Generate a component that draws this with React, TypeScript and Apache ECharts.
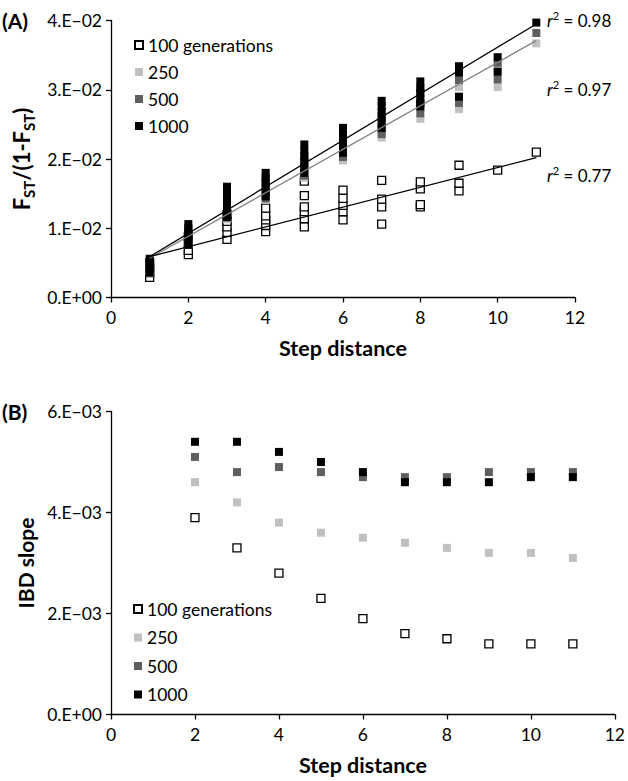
import React, { useEffect, useRef } from "react";
import * as echarts from "echarts";

// ---------- Data ----------
const seriesNames = ["100 generations", "250", "500", "1000"];
const stepX = [1, 2, 3, 4, 5, 6, 7, 8, 9, 10, 11];

// Panel A: replicate values of FST/(1-FST) per step distance
const topGen100 = [
  [0.0029, 0.0036, 0.0043, 0.005],
  [0.0062, 0.0068, 0.0078, 0.0088],
  [0.0084, 0.0094, 0.0102, 0.011, 0.012],
  [0.0095, 0.0104, 0.0112, 0.0118, 0.0129],
  [0.0102, 0.0114, 0.0124, 0.0131, 0.0147, 0.0168],
  [0.0112, 0.0124, 0.0133, 0.0143, 0.0155],
  [0.0106, 0.0131, 0.0142, 0.0169],
  [0.0131, 0.0134, 0.0157, 0.0167],
  [0.0154, 0.0165, 0.0191],
  [0.0184],
  [0.021],
];
const topGen250 = [
  [0.005, 0.004, 0.0036],
  [0.0094, 0.0082, 0.0076],
  [0.0145, 0.0128, 0.0113],
  [0.0165, 0.015, 0.0141],
  [0.0195, 0.018, 0.0173],
  [0.0225, 0.021, 0.0198],
  [0.0255, 0.024, 0.0231],
  [0.0295, 0.0275, 0.0258],
  [0.032, 0.0304, 0.0272],
  [0.033, 0.0304],
  [0.0367],
];
const topGen500 = [
  [0.0052, 0.0042, 0.0037],
  [0.0098, 0.0085, 0.0078],
  [0.015, 0.0132, 0.0116],
  [0.017, 0.0155, 0.0143],
  [0.02, 0.0185, 0.0176],
  [0.023, 0.0215, 0.0203],
  [0.0262, 0.0245, 0.0236],
  [0.03, 0.0282, 0.0266],
  [0.0326, 0.0314, 0.0281],
  [0.0339, 0.0315],
  [0.0382],
];
const topGen1000 = [
  [0.0056, 0.0051, 0.0046, 0.0041, 0.0036],
  [0.0106, 0.01, 0.0094, 0.0088, 0.0082, 0.0076],
  [0.016, 0.0152, 0.0144, 0.0136, 0.0128, 0.0121, 0.0116],
  [0.018, 0.0173, 0.0166, 0.0159, 0.0152, 0.0146],
  [0.0221, 0.0212, 0.0204, 0.0196, 0.0188, 0.018],
  [0.0245, 0.0238, 0.023, 0.0222, 0.0215, 0.0209],
  [0.0284, 0.0276, 0.0268, 0.026, 0.0252, 0.0245],
  [0.0312, 0.0303, 0.0295, 0.0287, 0.028, 0.0276],
  [0.0334, 0.0325, 0.029],
  [0.0347, 0.0326],
  [0.0397],
];
// Regression lines (endpoints at step 1 and 11)
const fitX = [1, 11];
const fitHigh = [0.0059, 0.0395];
const fitMid = [0.0057, 0.0371];
const fitLow = [0.0059, 0.0202];
const r2Labels = ["0.98", "0.97", "0.77"];

// Panel B: IBD slope per step distance
const slopeX = [2, 3, 4, 5, 6, 7, 8, 9, 10, 11];
const slope100 = [0.0039, 0.0033, 0.0028, 0.0023, 0.0019, 0.0016, 0.0015, 0.0014, 0.0014, 0.0014];
const slope250 = [0.0046, 0.0042, 0.0038, 0.0036, 0.0035, 0.0034, 0.0033, 0.0032, 0.0032, 0.0031];
const slope500 = [0.0051, 0.0048, 0.0049, 0.0048, 0.0047, 0.0047, 0.0047, 0.0048, 0.0048, 0.0048];
const slope1000 = [0.0054, 0.0054, 0.0052, 0.005, 0.0048, 0.0046, 0.0046, 0.0046, 0.0047, 0.0047];

const topYTicks = ["0.E+00", "1.E\u221202", "2.E\u221202", "3.E\u221202", "4.E\u221202"];
const bottomYTicks = ["0.E+00", "2.E\u221203", "4.E\u221203", "6.E\u221203"];

// ---------- Styles ----------
const FONT = "Lato";
const colors = ["#ffffff", "#c0c0c0", "#5e5e5e", "#000000"];

function replicatePairs(vals: number[][]) {
  const out: number[][] = [];
  vals.forEach((list, i) => list.forEach((v) => out.push([stepX[i], v])));
  return out;
}
function pairs(xs: number[], ys: number[]) {
  return xs.map((x, i) => [x, ys[i]]);
}

export default function App() {
  const ref = useRef<HTMLDivElement>(null);
  useEffect(() => {
    if (!ref.current) return;
    const chart = echarts.init(ref.current, undefined, { renderer: "svg" });
    const itemStyleFor = (i: number) =>
      i === 0
        ? { color: "#ffffff", borderColor: "#000000", borderWidth: 1.3, opacity: 1 }
        : { color: colors[i], borderWidth: 0, opacity: 1 };
    const scatter = (name: string, i: number, data: number[][], axis: number) => ({
      type: "scatter",
      name,
      xAxisIndex: axis,
      yAxisIndex: axis,
      symbol: "rect",
      symbolSize: 8,
      itemStyle: itemStyleFor(i),
      data,
      z: 2 + i,
    });
    const fitLine = (data: number[][], color: string) => ({
      type: "line",
      xAxisIndex: 0,
      yAxisIndex: 0,
      data,
      showSymbol: false,
      symbol: "none",
      lineStyle: { color, width: 1.3 },
      z: 10,
    });
    const axisCommon = {
      axisLine: { lineStyle: { color: "#000", width: 1.3 } },
      axisTick: { show: true, length: 5, inside: false, lineStyle: { color: "#000", width: 1.3 } },
      splitLine: { show: false },
    };
    const legendCommon = {
      orient: "vertical",
      icon: "rect",
      itemWidth: 8,
      itemHeight: 8,
      selectedMode: false,
      data: seriesNames,
      textStyle: { fontFamily: FONT, fontSize: 17.5, color: "#000" },
    };
    const r2Text = (val: string, y: number) => ({
      type: "text",
      x: 547,
      y,
      style: {
        text: `{i|r}{s|2}{t| = ${val}}`,
        textVerticalAlign: "middle",
        rich: {
          i: { fontFamily: FONT, fontSize: 17, fontStyle: "italic", color: "#000", verticalAlign: "bottom" },
          s: { fontFamily: FONT, fontSize: 11, color: "#000", verticalAlign: "bottom", padding: [0, 0, 8, 0] },
          t: { fontFamily: FONT, fontSize: 17, color: "#000", verticalAlign: "bottom" },
        },
      },
    });
    const option: any = {
      animation: false,
      backgroundColor: "#ffffff",
      grid: [
        { left: 111, top: 20.5, width: 464, height: 277, containLabel: false },
        { left: 111, top: 411.5, width: 504, height: 303, containLabel: false },
      ],
      legend: [
        { ...legendCommon, left: 129, top: 31, itemGap: 9 },
        { ...legendCommon, left: 128, top: 595, itemGap: 10.5 },
      ],
      xAxis: [0, 1].map((g) => ({
        ...axisCommon,
        type: "value",
        gridIndex: g,
        min: 0,
        max: 12,
        interval: 2,
        name: "Step distance",
        nameLocation: "middle",
        nameGap: 39,
        nameTextStyle: { fontFamily: FONT, fontSize: 21.5, fontWeight: "bold", color: "#000" },
        axisLabel: { fontFamily: FONT, fontSize: 17.5, color: "#000", margin: 11 },
      })),
      yAxis: [
        {
          ...axisCommon,
          type: "value",
          gridIndex: 0,
          min: 0,
          max: 0.04,
          interval: 0.01,
          name: "{b|F}{s|ST}{b|/(1-F}{s|ST}{b|)}",
          nameLocation: "middle",
          nameRotate: 90,
          nameGap: 73,
          nameTextStyle: {
            rich: {
              b: { fontFamily: FONT, fontSize: 22, fontWeight: "bold", color: "#000", verticalAlign: "bottom", padding: [0, 0, 4, 0] },
              s: { fontFamily: FONT, fontSize: 15, fontWeight: "bold", color: "#000", verticalAlign: "bottom" },
            },
          },
          axisLabel: {
            fontFamily: FONT,
            fontSize: 17.5,
            color: "#000",
            margin: 9,
            formatter: (v: number) => topYTicks[Math.round(v / 0.01)] ?? "",
          },
        },
        {
          ...axisCommon,
          type: "value",
          gridIndex: 1,
          min: 0,
          max: 0.006,
          interval: 0.002,
          name: "IBD slope",
          nameLocation: "middle",
          nameRotate: 90,
          nameGap: 73,
          nameTextStyle: { fontFamily: FONT, fontSize: 21, fontWeight: "bold", color: "#000" },
          axisLabel: {
            fontFamily: FONT,
            fontSize: 17.5,
            color: "#000",
            margin: 9,
            formatter: (v: number) => bottomYTicks[Math.round(v / 0.002)] ?? "",
          },
        },
      ],
      series: [
        scatter(seriesNames[0], 0, replicatePairs(topGen100), 0),
        scatter(seriesNames[1], 1, replicatePairs(topGen250), 0),
        scatter(seriesNames[2], 2, replicatePairs(topGen500), 0),
        scatter(seriesNames[3], 3, replicatePairs(topGen1000), 0),
        fitLine(pairs(fitX, fitHigh), "#000000"),
        fitLine(pairs(fitX, fitMid), "#808080"),
        fitLine(pairs(fitX, fitLow), "#000000"),
        scatter(seriesNames[0], 0, pairs(slopeX, slope100), 1),
        scatter(seriesNames[1], 1, pairs(slopeX, slope250), 1),
        scatter(seriesNames[2], 2, pairs(slopeX, slope500), 1),
        scatter(seriesNames[3], 3, pairs(slopeX, slope1000), 1),
      ],
      graphic: [
        {
          type: "text",
          x: 2,
          y: 20,
          style: { text: "(A)", fontFamily: FONT, fontSize: 21, fontWeight: "bold", fill: "#000", textVerticalAlign: "middle" },
        },
        {
          type: "text",
          x: 2,
          y: 411,
          style: { text: "(B)", fontFamily: FONT, fontSize: 21, fontWeight: "bold", fill: "#000", textVerticalAlign: "middle" },
        },
        r2Text(r2Labels[0], 19),
        r2Text(r2Labels[1], 88),
        r2Text(r2Labels[2], 174),
      ],
    };
    chart.setOption(option);
    return () => chart.dispose();
  }, []);
  return (
    <div
      ref={ref}
      style={{ position: "absolute", left: 0, top: 0, width: 628, height: 781, background: "#fff" }}
    />
  );
}
